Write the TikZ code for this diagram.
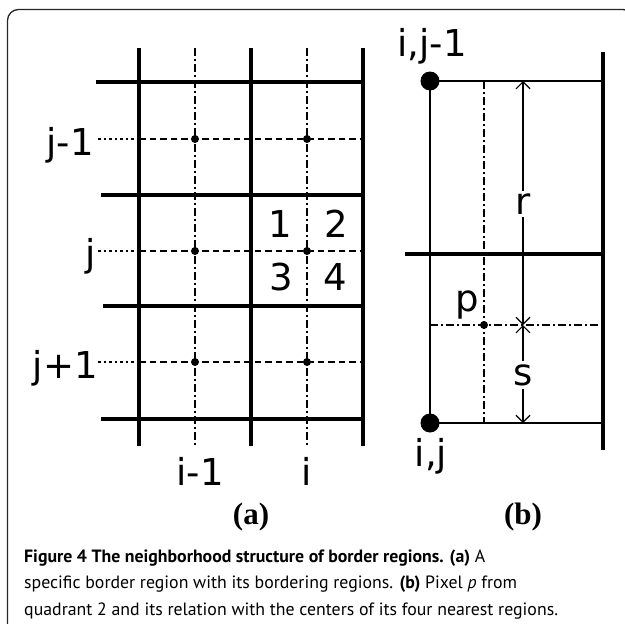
\documentclass[tikz,border=0pt]{standalone}
\usepackage{fontspec}
\setmainfont{PT Sans}
\newfontfamily\labfont{DejaVu Sans}
\newfontfamily\serfont{Liberation Serif}
\usetikzlibrary{arrows.meta}
\begin{document}
\begin{tikzpicture}[x=1pt,y=-1pt,
  thickln/.style={line width=3.3pt},
  thinln/.style={line width=2pt},
  dashln/.style={line width=1.8pt,dash pattern=on 6.5pt off 4pt},
  dashdotln/.style={line width=1.8pt,dash pattern=on 7.5pt off 3.5pt on 1.5pt off 3.5pt},
  dotln/.style={line width=1.1pt,dash pattern=on 2.5pt off 3pt},
  lab/.style={font=\labfont\fontsize{37}{37}\selectfont,inner sep=0pt},
  sublab/.style={font=\serfont\bfseries\fontsize{31}{31}\selectfont,inner sep=0pt},
  smalldot/.style={circle,fill=black,inner sep=0pt,minimum size=8pt},
  bigdot/.style={circle,fill=black,inner sep=0pt,minimum size=19pt},
  captext/.style={font=\fontsize{17.8}{22}\selectfont,inner sep=0pt,anchor=base west},
  barb/.style={{Straight Barb[length=7pt,width=14pt,line width=1.1pt]}-{Straight Barb[length=7pt,width=14pt,line width=1.1pt]}}
]
\clip (0,0) rectangle (625,624);
% frame
\draw[line width=1.3pt,draw=black!85,rounded corners=11pt] (7.5,700) -- (7.5,9.5) -- (634,9.5) -- (634,700);

% ---------- panel (a) ----------
\foreach \yy in {139,251,362}{
  \draw[dotln] (98,\yy) -- (139,\yy);
  \draw[dashln] (139,\yy) -- (363,\yy);
}
\foreach \xx in {195,307}{
  \draw[dashdotln] (\xx,48) -- (\xx,447);
}
\foreach \xx in {139,251,363}{
  \draw[thickln] (\xx,48) -- (\xx,446);
}
\draw[thickln] (96,82) -- (364.6,82);
\draw[thickln] (101,195) -- (364.6,195);
\draw[thickln] (103,306) -- (364.6,306);
\draw[thickln] (101,419) -- (364.6,419);
\node[smalldot] (c11) at (195,139) {};
\node[smalldot] (c21) at (307,139) {};
\node[smalldot] (c12) at (195,251) {};
\node[smalldot] (c22) at (307,251) {};
\node[smalldot] (c13) at (195,362) {};
\node[smalldot] (c23) at (307,362) {};
\node[lab,anchor=base east] (ljm) at (94,155) {j-1};
\node[lab,anchor=base east] (lj) at (96,266) {j};
\node[lab,anchor=base east] (ljp) at (98,378) {j+1};
\node[lab,anchor=base] (lim) at (200,485) {i-1};
\node[lab,anchor=base] (li) at (307,485) {i};
\node[lab,anchor=base] (q1) at (280,237) {1};
\node[lab,anchor=base] (q2) at (336,237) {2};
\node[lab,anchor=base] (q3) at (281,290) {3};
\node[lab,anchor=base] (q4) at (335,290) {4};
\node[sublab,anchor=base] (pa) at (251,524) {(a)};

% ---------- panel (b) ----------
\coordinate (tl) at (430,81);
\coordinate (tr) at (603,81);
\coordinate (bl) at (430,423);
\coordinate (br) at (603,423);
\draw[dashdotln] (484,81) -- (484,423);
\draw[dashdotln] (430,325) -- (603,325);
\draw[thinln] (tl) -- (tr);
\draw[thinln] (bl) -- (br);
\draw[thinln] (tl) -- (bl);
\draw[thickln] (603,52) -- (603,450);
\draw[thickln] (405,254) -- (604.6,254);
\coordinate (rt) at (523,81);
\coordinate (rm) at (523,325);
\coordinate (rb) at (523,423);
\draw[line width=1.4pt,barb] (rt) -- (rm);
\draw[line width=1.4pt,barb] (rm) -- (rb);
\node[lab,fill=white,inner ysep=3pt,inner xsep=1pt] (lr) at (523,204) {r};
\node[lab,fill=white,inner ysep=3pt,inner xsep=1pt] (ls) at (523,375) {s};
\node[bigdot] (ptop) at (tl) {};
\node[bigdot] (pbot) at (bl) {};
\node[smalldot] (pp) at (484,325) {};
\node[lab,anchor=base] (lp) at (467,311) {p};
\node[lab,anchor=base] (lij1) at (432,56) {i,j-1};
\node[lab,anchor=base] (lij) at (431,466) {i,j};
\node[sublab,anchor=base] (pb) at (523,524) {(b)};

% ---------- caption ----------
\node[captext] (cap1) at (24,562) {\textbf{Figure 4 The neighborhood structure of border regions. (a)} A};
\node[captext] (cap2) at (24,588.5) {specific border region with its bordering regions. \textbf{(b)} Pixel \textit{p} from};
\node[captext] (cap3) at (24,615) {quadrant 2 and its relation with the centers of its four nearest regions.};
\end{tikzpicture}
\end{document}
